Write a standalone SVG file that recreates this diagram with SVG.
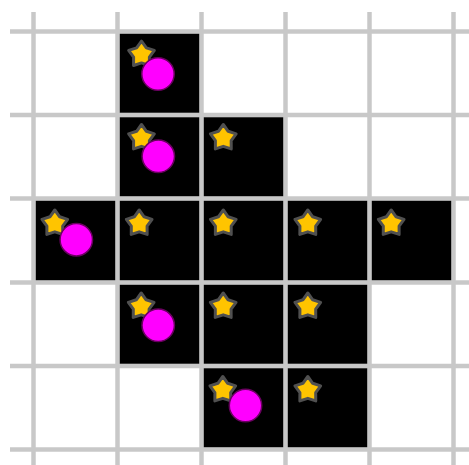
<svg xmlns="http://www.w3.org/2000/svg" xmlns:xlink="http://www.w3.org/1999/xlink" width="469" height="465" viewBox="0 0 469 465">
<style>
.grid line{stroke:#c8c8c8;stroke-width:4.5}
.cell{fill:#000}
.star{fill:#ffc400;stroke:#505050;stroke-width:3;stroke-linejoin:round}
.dot{fill:#ff00ff;stroke:#6a0060;stroke-width:1.5}
</style>
<defs>
<polygon id="star" points="0,-13.5 4.88,-6.71 12.84,-4.17 7.89,2.56 7.94,10.92 0,8.3 -7.94,10.92 -7.89,2.56 -12.84,-4.17 -4.88,-6.71"/>
</defs>
<rect width="469" height="465" fill="#fff"/>
<g id="connectors" class="grid">
<line x1="33.5" y1="12" x2="33.5" y2="465"/>
<line x1="117.5" y1="12" x2="117.5" y2="465"/>
<line x1="201.5" y1="12" x2="201.5" y2="465"/>
<line x1="285.5" y1="12" x2="285.5" y2="465"/>
<line x1="369.5" y1="12" x2="369.5" y2="465"/>
<line x1="453.5" y1="12" x2="453.5" y2="465"/>
<line x1="10" y1="31.5" x2="469" y2="31.5"/>
<line x1="10" y1="115" x2="469" y2="115"/>
<line x1="10" y1="198.5" x2="469" y2="198.5"/>
<line x1="10" y1="282.5" x2="469" y2="282.5"/>
<line x1="10" y1="366" x2="469" y2="366"/>
<line x1="10" y1="449.5" x2="469" y2="449.5"/>
</g>
<g id="cell-r0c1"><rect class="cell" x="119.75" y="33.75" width="79.5" height="79"/><use href="#star" class="star" x="141.5" y="54.6"/><circle class="dot" cx="158" cy="74" r="16.2"/></g>
<g id="cell-r1c1"><rect class="cell" x="119.75" y="117.25" width="79.5" height="79"/><use href="#star" class="star" x="141.5" y="138"/><circle class="dot" cx="158.3" cy="156.3" r="16.2"/></g>
<g id="cell-r1c2"><rect class="cell" x="203.75" y="117.25" width="79.5" height="79"/><use href="#star" class="star" x="223.3" y="138"/></g>
<g id="cell-r2c0"><rect class="cell" x="35.75" y="200.75" width="79.5" height="79.5"/><use href="#star" class="star" x="54.8" y="223.5"/><circle class="dot" cx="76.3" cy="239.7" r="16.2"/></g>
<g id="cell-r2c1"><rect class="cell" x="119.75" y="200.75" width="79.5" height="79.5"/><use href="#star" class="star" x="139.2" y="223.5"/></g>
<g id="cell-r2c2"><rect class="cell" x="203.75" y="200.75" width="79.5" height="79.5"/><use href="#star" class="star" x="223.3" y="223.5"/></g>
<g id="cell-r2c3"><rect class="cell" x="287.75" y="200.75" width="79.5" height="79.5"/><use href="#star" class="star" x="307.8" y="223.5"/></g>
<g id="cell-r2c4"><rect class="cell" x="371.75" y="200.75" width="79.5" height="79.5"/><use href="#star" class="star" x="391.2" y="223.5"/></g>
<g id="cell-r3c1"><rect class="cell" x="119.75" y="284.75" width="79.5" height="79"/><use href="#star" class="star" x="141.2" y="306.5"/><circle class="dot" cx="158.2" cy="325.3" r="16.2"/></g>
<g id="cell-r3c2"><rect class="cell" x="203.75" y="284.75" width="79.5" height="79"/><use href="#star" class="star" x="223.2" y="306.5"/></g>
<g id="cell-r3c3"><rect class="cell" x="287.75" y="284.75" width="79.5" height="79"/><use href="#star" class="star" x="307.8" y="306.5"/></g>
<g id="cell-r4c2"><rect class="cell" x="203.75" y="368.25" width="79.5" height="79"/><use href="#star" class="star" x="222.8" y="390"/><circle class="dot" cx="245.5" cy="405.5" r="16.2"/></g>
<g id="cell-r4c3"><rect class="cell" x="287.75" y="368.25" width="79.5" height="79"/><use href="#star" class="star" x="307.8" y="390"/></g>
</svg>
